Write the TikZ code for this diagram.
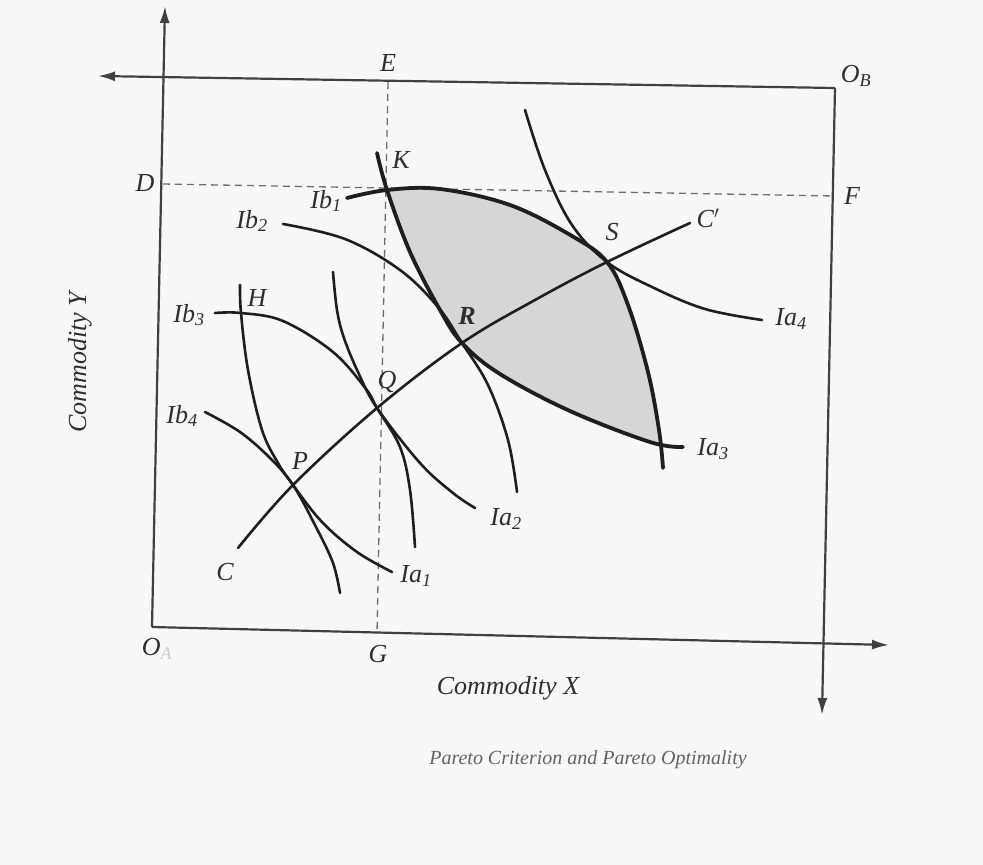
\documentclass[tikz,border=0pt]{standalone}
\usepackage{fontspec}
\setmainfont{Liberation Serif}
\usetikzlibrary{arrows.meta}
\definecolor{paper}{HTML}{F7F7F7}
\definecolor{ink}{HTML}{1E1E1E}
\definecolor{inktext}{HTML}{2E2E2E}
\definecolor{lens}{HTML}{D6D6D6}
\begin{document}
\begin{tikzpicture}[x=1pt,y=-1pt,
  lbl/.style={font=\fontsize{26}{28}\selectfont\itshape, text=inktext, inner sep=0pt},
  axisline/.style={line width=2.2pt, draw=ink!85},
  axtip/.style={-{Latex[length=17pt,width=10pt]}},
  guide/.style={line width=1.3pt, dash pattern=on 7pt off 5pt, draw=ink!65},
  icurve/.style={line width=2.6pt, draw=ink, line cap=round},
  bcurve/.style={line width=3.8pt, draw=ink, line cap=round},
  sm/.style={smooth, tension=0.6}]
\useasboundingbox (0,0) rectangle (983,865);
\fill[paper] (0,0) rectangle (983,865);

% key points
\coordinate (OA) at (152,627);
\coordinate (OB) at (835,88);
\coordinate (yTip) at (165,6);
\coordinate (xTip) at (889,645);
\coordinate (xbTip) at (98,76);
\coordinate (ybTip) at (822,715);
\coordinate (Etop) at (388,82);
\coordinate (Gbot) at (377,633);
\coordinate (Dl) at (163,184);
\coordinate (Fr) at (834,196);
\coordinate (K) at (387,190);
\coordinate (H) at (241,313);
\coordinate (P) at (293,485);
\coordinate (Q) at (377,408);
\coordinate (R) at (462,343);
\coordinate (S) at (607,262);
\coordinate (C) at (238,548);
\coordinate (Cp) at (690,223);

% shaded lens between Ib1 and Ia3
\begin{scope}
  \clip plot[sm] coordinates {(347,198) (K) (440,189) (510,205) (572,236) (S) (628,305) (648,372) (659,430) (663,468)}
        -- (663,720) -- (100,720) -- (100,198) -- cycle;
  \fill[lens] plot[sm] coordinates {(377,153) (K) (410,252) (440,310) (R) (500,374) (570,411) (650,442) (683,447)}
        -- (900,447) -- (900,100) -- (377,100) -- cycle;
\end{scope}

% axes of the box
\draw[axisline,axtip] (OA) -- (yTip);
\draw[axisline,axtip] (OA) -- (xTip);
\draw[axisline,axtip] (OB) -- (xbTip);
\draw[axisline,axtip] (OB) -- (ybTip);

% dashed guides
\draw[guide] (Etop) -- (Gbot);
\draw[guide] (Dl) -- (Fr);

% indifference curves of A
\draw[icurve] plot[sm] coordinates {(240,285) (H) (248,370) (262,430) (278,463) (P) (322,522) (357,552) (392,572)};
\draw[icurve] plot[sm] coordinates {(333,272) (337,310) (344,338) (358,372) (Q) (420,463) (453,493) (475,508)};
\draw[bcurve] plot[sm] coordinates {(377,153) (K) (410,252) (440,310) (R) (500,374) (570,411) (650,442) (683,447)};
\draw[icurve] plot[sm] coordinates {(525,110) (545,170) (572,225) (S) (652,287) (705,309) (762,320)};

% indifference curves of B
\draw[bcurve] plot[sm] coordinates {(347,198) (K) (440,189) (510,205) (572,236) (S) (628,305) (648,372) (659,430) (663,468)};
\draw[icurve] plot[sm] coordinates {(283,224) (345,239) (400,270) (438,307) (R) (488,385) (508,440) (517,492)};
\draw[icurve] plot[sm] coordinates {(215,313) (H) (283,321) (333,352) (366,389) (Q) (400,447) (410,490) (415,547)};
\draw[icurve] plot[sm] coordinates {(205,412) (240,432) (270,458) (P) (316,527) (333,563) (340,593)};

% contract curve
\draw[icurve] plot[sm] coordinates {(C) (P) (Q) (R) (535,300) (S) (Cp)};

% labels
\node[lbl] (lE) at (388,63) {E};
\node[lbl] (lOB) at (856,76) {O\textsubscript{B}};
\node[lbl] (lD) at (145,183) {D};
\node[lbl] (lF) at (852,196) {F};
\node[lbl] (lK) at (401,160) {K};
\node[lbl] (lIb1) at (326,201) {Ib\textsubscript{1}};
\node[lbl] (lIb2) at (252,221) {Ib\textsubscript{2}};
\node[lbl] (lIb3) at (189,315) {Ib\textsubscript{3}};
\node[lbl] (lH) at (257,298) {H};
\node[lbl] (lIb4) at (182,416) {Ib\textsubscript{4}};
\node[lbl] (lP) at (300,461) {P};
\node[lbl] (lQ) at (387,382) {Q};
\node[lbl,font=\fontsize{26}{28}\selectfont\bfseries\itshape] (lR) at (467,316) {R};
\node[lbl] (lS) at (612,232) {S};
\node[lbl] (lCp) at (708,218) {C\('\)};
\node[lbl] (lIa4) at (791,319) {Ia\textsubscript{4}};
\node[lbl] (lIa3) at (713,449) {Ia\textsubscript{3}};
\node[lbl] (lIa2) at (506,519) {Ia\textsubscript{2}};
\node[lbl] (lIa1) at (416,576) {Ia\textsubscript{1}};
\node[lbl] (lC) at (225,572) {C};
\node[lbl] (lOA) at (157,649) {O\textsubscript{\textcolor{black!20}{A}}};
\node[lbl] (lG) at (378,654) {G};
\node[lbl] (lX) at (508,688) {Commodity X};
\node[lbl,rotate=90] (lY) at (80,362) {Commodity Y};
\node[lbl,font=\fontsize{20}{22}\selectfont\itshape,text=inktext!75] (cap) at (588,760) {Pareto Criterion and Pareto Optimality};
\end{tikzpicture}
\end{document}
